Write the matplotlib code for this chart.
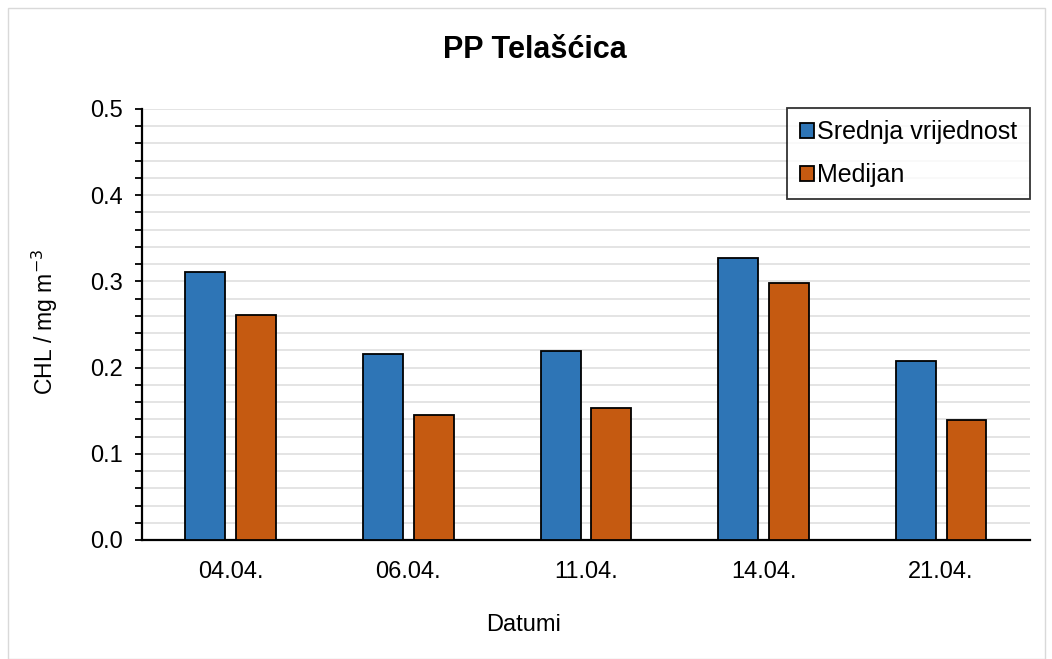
import matplotlib.pyplot as plt
import numpy as np
from matplotlib.patches import Rectangle
from matplotlib.ticker import MultipleLocator

datumi = ['04.04.', '06.04.', '11.04.', '14.04.', '21.04.']
srednja = [0.311, 0.216, 0.219, 0.327, 0.208]
medijan = [0.261, 0.145, 0.153, 0.298, 0.139]

plt.rcParams['font.family'] = ['Liberation Sans', 'DejaVu Sans']

fig = plt.figure(figsize=(10.52, 6.59), dpi=100)
ax = fig.add_axes([0.135, 0.1806, 0.844, 0.654])
# light border round the whole chart
fig.patches.append(Rectangle((0.008, 0.0), 0.985, 0.988, transform=fig.transFigure,
                             fill=False, edgecolor='#d9d9d9', linewidth=1))

x = np.arange(len(datumi))
w = 0.225
ax.bar(x - 0.143, srednja, w, color='#2E75B6', edgecolor='black', linewidth=1.3,
       label='Srednja vrijednost', zorder=3)
ax.bar(x + 0.143, medijan, w, color='#C55A11', edgecolor='black', linewidth=1.3,
       label='Medijan', zorder=3)

ax.set_xlim(-0.5, len(datumi) - 0.5)
ax.set_ylim(0, 0.5)
ax.yaxis.set_major_locator(MultipleLocator(0.1))
ax.yaxis.set_minor_locator(MultipleLocator(0.02))
ax.yaxis.set_major_formatter(lambda v, p: f'{v:.1f}')
ax.grid(axis='y', which='both', color='#e2e2e2', linewidth=1.3, zorder=0)
ax.set_xticks(x)
ax.set_xticklabels(datumi)
ax.tick_params(axis='x', length=0, labelsize=17, pad=15)
ax.tick_params(axis='y', which='major', length=5, width=1.3, labelsize=17, pad=9)
ax.tick_params(axis='y', which='minor', length=5, width=1.3)

for s in ['top', 'right']:
    ax.spines[s].set_visible(False)
for s in ['left', 'bottom']:
    ax.spines[s].set_linewidth(1.6)

fig.text(0.508, 1 - 50 / 659, 'PP Telašćica', fontsize=22, fontweight='bold',
         ha='center', va='center')
fig.text(45 / 1052, 1 - 322 / 659, 'CHL / mg m$^{-3}$', fontsize=16.5, rotation=90,
         ha='center', va='center')
fig.text(0.498, 1 - 625 / 659, 'Datumi', fontsize=17, ha='center', va='center')

leg = ax.legend(loc='upper right', bbox_to_anchor=(1.0, 1.003), fontsize=18,
                frameon=True, fancybox=False, handlelength=0.55, handleheight=0.55,
                handletextpad=0.15, labelspacing=0.75, borderpad=0.5, borderaxespad=0)
leg.get_frame().set_edgecolor('black')
leg.get_frame().set_linewidth(1.3)

fig.savefig('out.png', dpi=100)
